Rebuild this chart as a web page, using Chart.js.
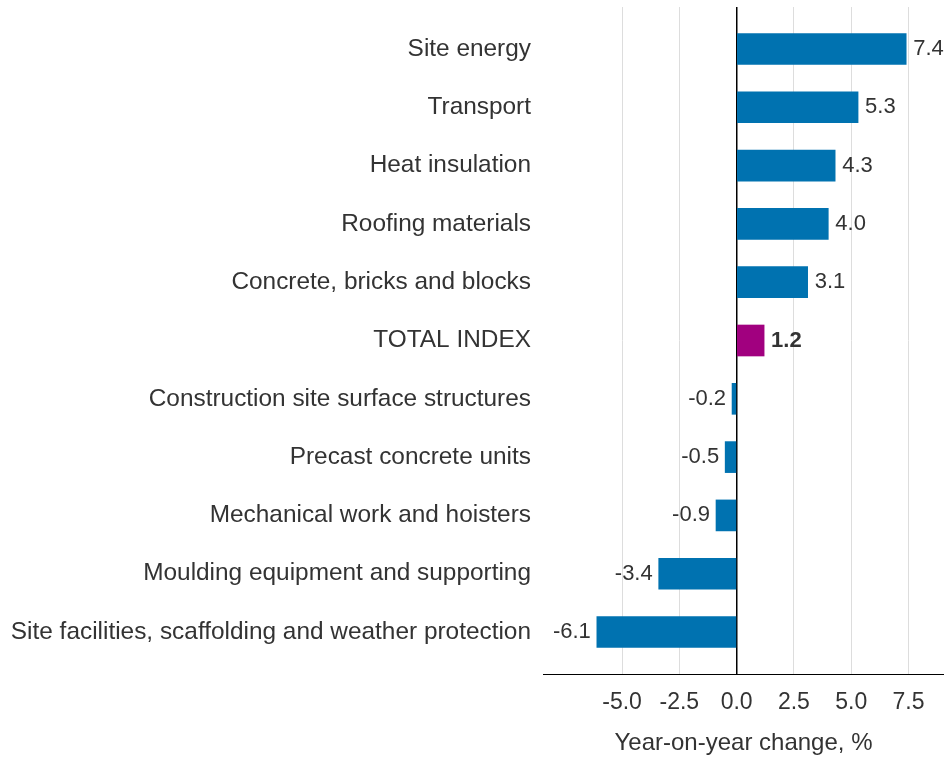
<!DOCTYPE html>
<html>
<head>
<meta charset="utf-8">
<script src="https://cdn.jsdelivr.net/npm/chart.js@4/dist/chart.umd.min.js"></script>
<style>
  html, body { margin: 0; padding: 0; background: #fff; }
  #wrap { width: 944px; height: 758px; }
</style>
</head>
<body>
<div id="wrap"><canvas id="chart"></canvas></div>
<script>
// Data
const categories = [
    "Site energy",
    "Transport",
    "Heat insulation",
    "Roofing materials",
    "Concrete, bricks and blocks",
    "TOTAL INDEX",
    "Construction site surface structures",
    "Precast concrete units",
    "Mechanical work and hoisters",
    "Moulding equipment and supporting",
    "Site facilities, scaffolding and weather protection"
];
const changes = [7.4, 5.3, 4.3, 4.0, 3.1, 1.2, -0.2, -0.5, -0.9, -3.4, -6.1];
const xTicks = [-5.0, -2.5, 0.0, 2.5, 5.0, 7.5];

const blue = "#0072b0";
const purple = "#a1007f";
const textColor = "#333333";
const fontFamily = "'Liberation Sans', Arial, sans-serif";

// value labels next to each bar
const valueLabels = {
    id: "valueLabels",
    afterDatasetsDraw(chart) {
        const ctx = chart.ctx;
        const meta = chart.getDatasetMeta(0);
        ctx.save();
        ctx.fillStyle = textColor;
        ctx.textBaseline = "middle";
        meta.data.forEach((bar, i) => {
            const v = changes[i];
            const bold = categories[i] === "TOTAL INDEX";
            ctx.font = (bold ? "bold " : "") + "22px " + fontFamily;
            if (v >= 0) {
                ctx.textAlign = "left";
                ctx.fillText(v.toFixed(1), bar.x + 7, bar.y);
            } else {
                ctx.textAlign = "right";
                ctx.fillText(v.toFixed(1), bar.x - 6, bar.y);
            }
        });
        ctx.restore();
    }
};

new Chart(document.getElementById("chart"), {
    type: "bar",
    data: {
        datasets: [{
            data: changes.map((v, i) => ({ x: v, y: i })),
            backgroundColor: categories.map(c => c === "TOTAL INDEX" ? purple : blue),
            borderWidth: 0,
            barThickness: 31
        }]
    },
    options: {
        indexAxis: "y",
        responsive: true,
        maintainAspectRatio: false,
        animation: false,
        layout: { padding: { top: 7, left: 0, right: 0, bottom: 0 } },
        plugins: {
            legend: { display: false },
            tooltip: { enabled: false }
        },
        scales: {
            x: {
                type: "linear",
                min: -8.45,
                max: 9.05,
                afterBuildTicks: (scale) => { scale.ticks = xTicks.map(v => ({ value: v })); },
                afterFit: (scale) => { scale.height = 84; },
                ticks: {
                    padding: 15,
                    color: textColor,
                    font: { family: fontFamily, size: 23 },
                    callback: (v) => Number(v).toFixed(1)
                },
                grid: {
                    drawTicks: false,
                    color: (c) => c.tick && c.tick.value === 0 ? "#000000" : "#dddddd",
                    lineWidth: (c) => c.tick && c.tick.value === 0 ? 1.5 : 1
                },
                border: { display: true, color: "#000000", width: 1 },
                title: {
                    display: true,
                    text: "Year-on-year change, %",
                    color: textColor,
                    font: { family: fontFamily, size: 24 },
                    padding: { top: 15, bottom: 0 }
                }
            },
            y: {
                type: "linear",
                reverse: true,
                offset: false,
                min: -0.72,
                max: 10.72,
                afterBuildTicks: (scale) => { scale.ticks = categories.map((c, i) => ({ value: i })); },
                afterFit: (scale) => {
                    scale.width = 543;
                    scale.paddingTop = 0;
                    scale.paddingBottom = 0;
                },
                ticks: {
                    padding: 12,
                    color: textColor,
                    font: { family: fontFamily, size: 24.4 },
                    callback: (v) => categories[v]
                },
                grid: { display: false, drawTicks: false },
                border: { display: false }
            }
        }
    },
    plugins: [valueLabels]
});
</script>
</body>
</html>
